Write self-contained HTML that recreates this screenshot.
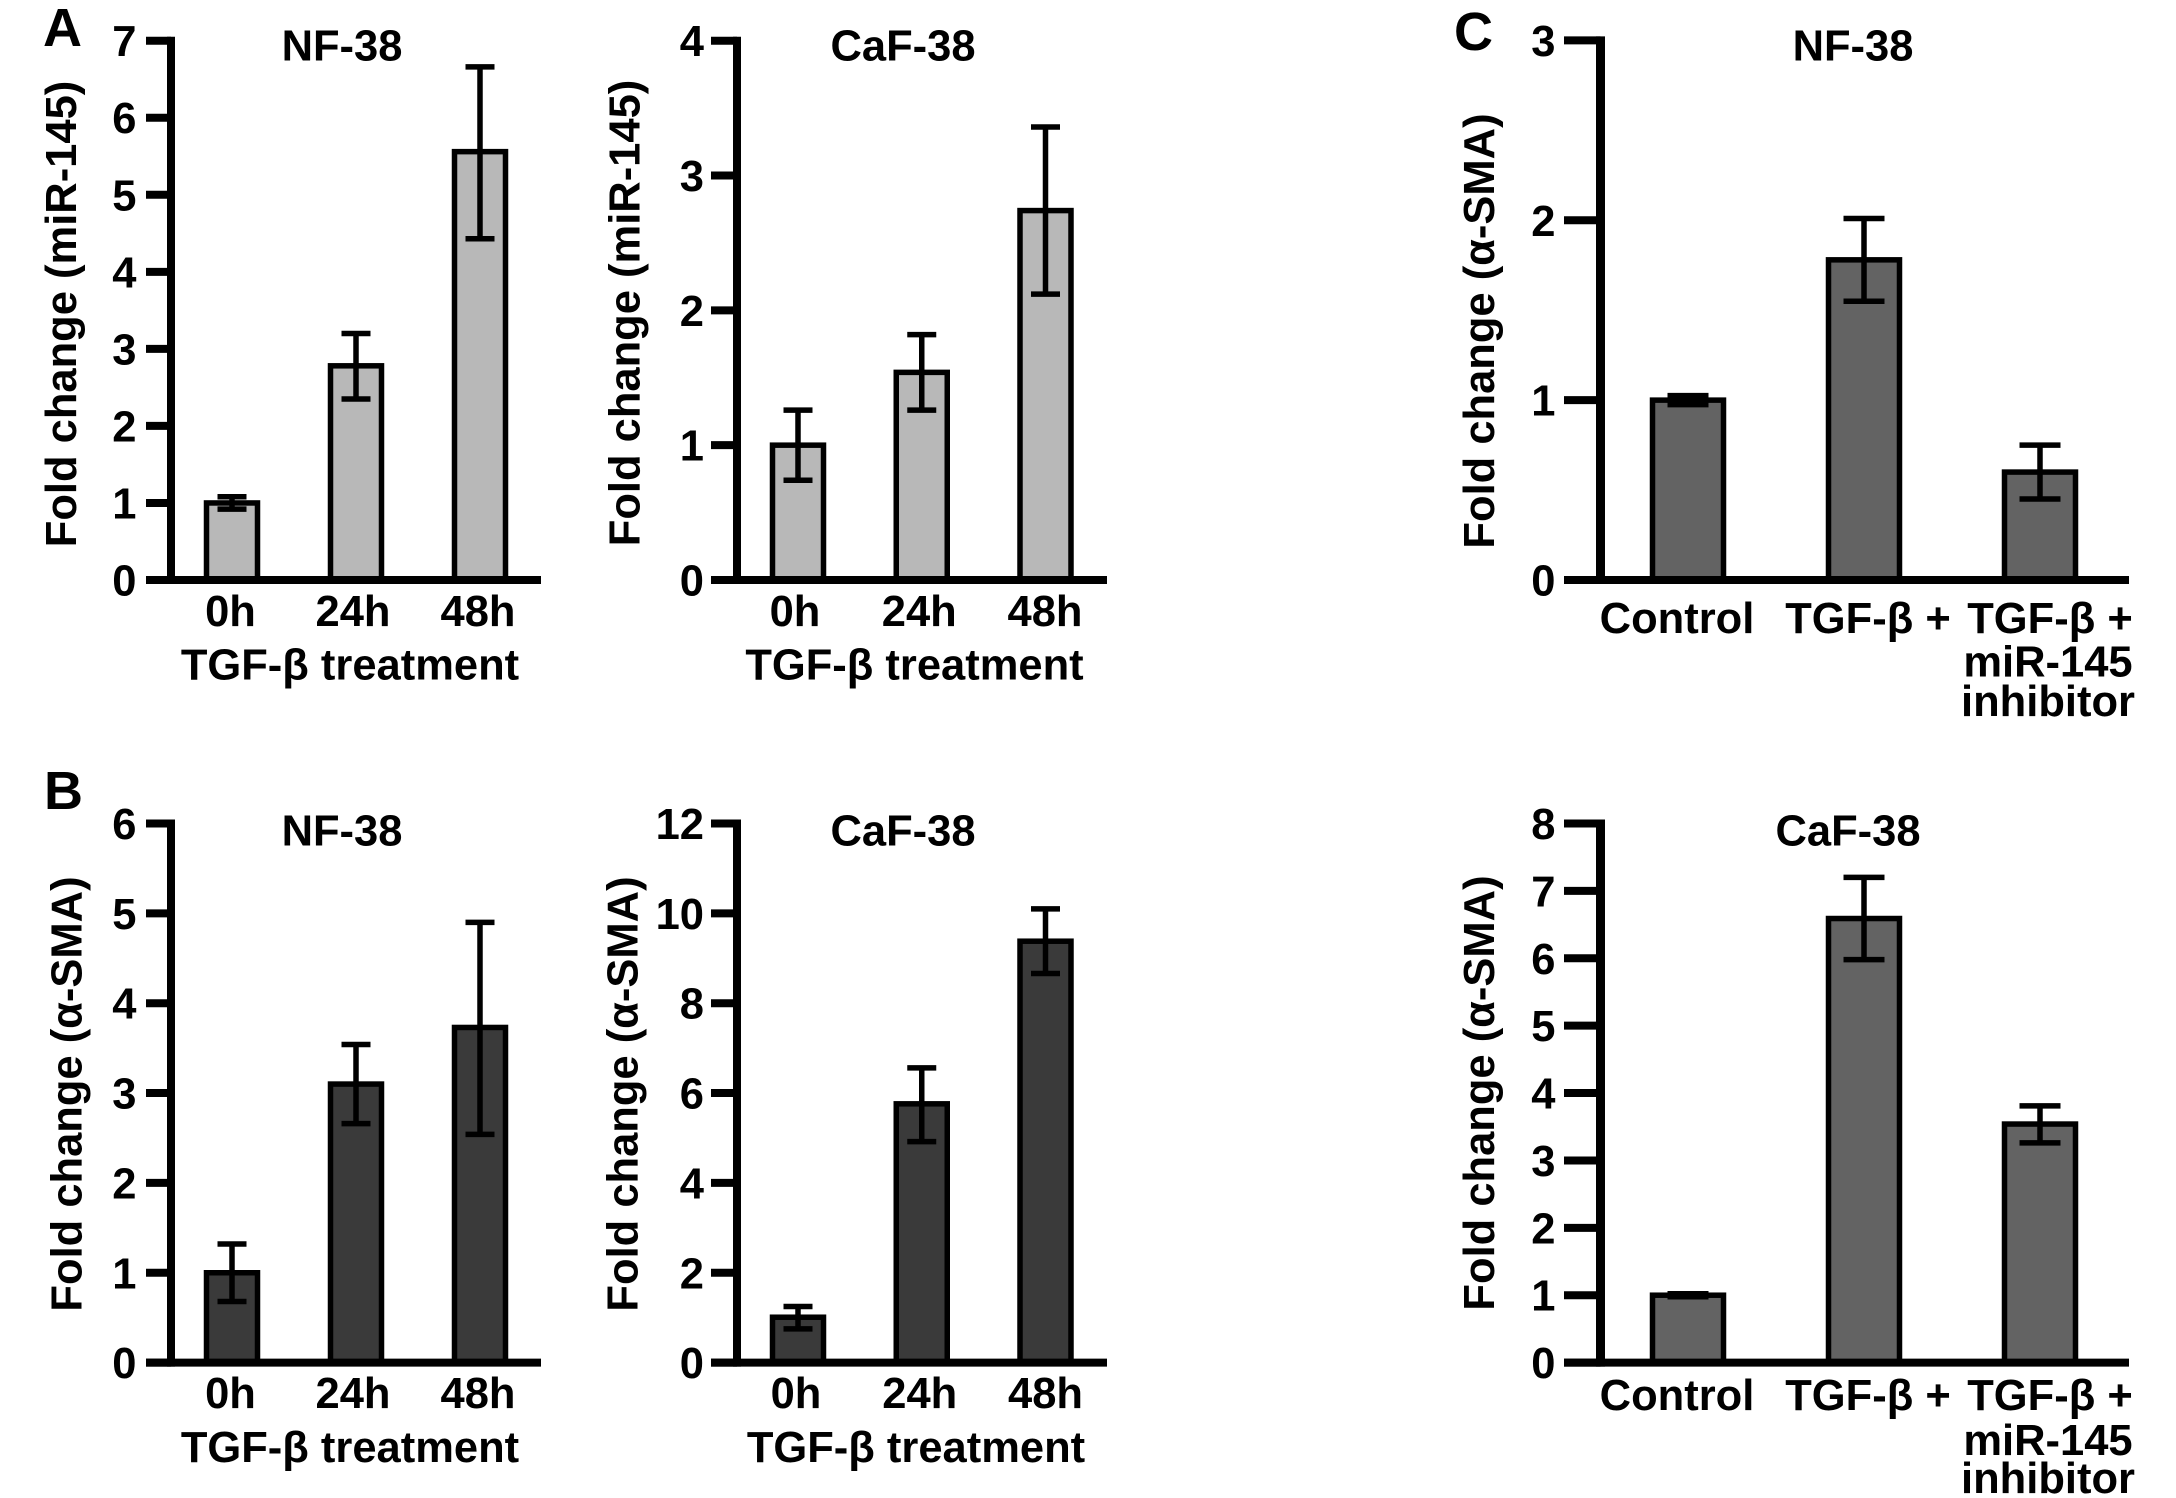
<!DOCTYPE html>
<html lang="en">
<head>
<meta charset="utf-8">
<title>Fold change of miR-145 and α-SMA</title>
<style>
  html, body { margin: 0; padding: 0; background: #fff; }
  svg { display: block; }
  text { font-family: "Liberation Sans", "DejaVu Sans", sans-serif; font-weight: 700; font-size: 43.5px; fill: #000; }
  .letter { font-size: 54px; }
  .mid { text-anchor: middle; }
</style>
</head>
<body>
<svg id="figure" width="2176" height="1498" viewBox="0 0 2176 1498" xmlns="http://www.w3.org/2000/svg">
  <rect width="2176" height="1498" fill="#fff"/>

  <text class="letter" x="43" y="46">A</text>
  <text class="letter" x="44" y="809">B</text>
  <text class="letter" x="1454" y="50">C</text>

  <g id="a1">
    <text class="mid" x="342" y="60.5">NF-38</text>
    <text class="mid" transform="translate(76 314) rotate(-90)">Fold change (miR-145)</text>
    <text class="mid" x="350" y="679.5">TGF-β treatment</text>
  </g>
  <g id="a2">
    <text class="mid" x="903" y="60.5">CaF-38</text>
    <text class="mid" transform="translate(639.5 313) rotate(-90)">Fold change (miR-145)</text>
    <text class="mid" x="914.5" y="679.5">TGF-β treatment</text>
  </g>
  <g id="b1">
    <text class="mid" x="342" y="845.5">NF-38</text>
    <text class="mid" transform="translate(81.5 1094) rotate(-90)">Fold change (α-SMA)</text>
    <text class="mid" x="350" y="1462">TGF-β treatment</text>
  </g>
  <g id="b2">
    <text class="mid" x="903" y="845.5">CaF-38</text>
    <text class="mid" transform="translate(637.5 1094) rotate(-90)">Fold change (α-SMA)</text>
    <text class="mid" x="916" y="1462">TGF-β treatment</text>
  </g>
  <g id="c1">
    <text class="mid" x="1853" y="60.5">NF-38</text>
    <text class="mid" transform="translate(1494 331) rotate(-90)">Fold change (α-SMA)</text>
  </g>
  <g id="c2">
    <text class="mid" x="1848" y="845.5">CaF-38</text>
    <text class="mid" transform="translate(1494 1093) rotate(-90)">Fold change (α-SMA)</text>
  </g>
</svg>

<script>
// Categories
const timeCategories = ['0h', '24h', '48h'];
const treatmentCategories = ['Control', 'TGF-β +', 'TGF-β +|miR-145|inhibitor'];

// Panel A, NF-38
const a1Ticks = [0, 1, 2, 3, 4, 5, 6, 7];
const a1Values = [1.0, 2.78, 5.56];
const a1ErrHigh = [1.08, 3.2, 6.66];
const a1ErrLow = [0.92, 2.35, 4.43];

// Panel A, CaF-38
const a2Ticks = [0, 1, 2, 3, 4];
const a2Values = [1.0, 1.54, 2.74];
const a2ErrHigh = [1.26, 1.82, 3.36];
const a2ErrLow = [0.74, 1.26, 2.12];

// Panel B, NF-38
const b1Ticks = [0, 1, 2, 3, 4, 5, 6];
const b1Values = [1.0, 3.1, 3.73];
const b1ErrHigh = [1.32, 3.54, 4.9];
const b1ErrLow = [0.68, 2.66, 2.54];

// Panel B, CaF-38
const b2Ticks = [0, 2, 4, 6, 8, 10, 12];
const b2Values = [1.01, 5.76, 9.38];
const b2ErrHigh = [1.25, 6.56, 10.1];
const b2ErrLow = [0.75, 4.92, 8.66];

// Panel C, NF-38
const c1Ticks = [0, 1, 2, 3];
const c1Values = [1.0, 1.78, 0.6];
const c1ErrHigh = [1.025, 2.01, 0.75];
const c1ErrLow = [0.975, 1.55, 0.45];

// Panel C, CaF-38
const c2Ticks = [0, 1, 2, 3, 4, 5, 6, 7, 8];
const c2Values = [1.0, 6.59, 3.54];
const c2ErrHigh = [1.022, 7.2, 3.81];
const c2ErrLow = [0.978, 5.98, 3.26];

const LIGHT = '#b8b8b8', DARK = '#3a3a3a', MID = '#636363';
const SVG_NS = 'http://www.w3.org/2000/svg';

function make(parent, tag, attrs, text) {
  const el = document.createElementNS(SVG_NS, tag);
  for (const k in attrs) el.setAttribute(k, attrs[k]);
  if (text !== undefined) el.textContent = text;
  parent.appendChild(el);
  return el;
}

function drawPanel(p) {
  const g = document.getElementById(p.id);
  const maxV = p.ticks[p.ticks.length - 1];
  const yScale = v => p.base - (v / maxV) * (p.base - p.top);
  const xScale = i => p.x0 + p.step * i;

  p.values.forEach((v, i) => {
    const cx = xScale(i);
    const bar = make(g, 'rect', {
      x: cx - p.barW / 2, y: yScale(v), width: p.barW, height: p.base - yScale(v),
      fill: p.fill, stroke: '#000', 'stroke-width': 5.5
    });
    
    
  });

  p.values.forEach((v, i) => {
    const cx = xScale(i), yHi = yScale(p.high[i]), yLo = yScale(p.low[i]);
    const stem = make(g, 'line', { x1: cx, x2: cx, y1: yHi, y2: yLo, stroke: '#000', 'stroke-width': 5.5 });
    
    
    const capTop = make(g, 'line', { x1: cx - p.capW / 2, x2: cx + p.capW / 2, y1: yHi, y2: yHi, stroke: '#000', 'stroke-width': 5.5 });
    
    
    const capLow = make(g, 'line', { x1: cx - p.capW / 2, x2: cx + p.capW / 2, y1: yLo, y2: yLo, stroke: '#000', 'stroke-width': 5.5 });
    
    
  });

  const yAxis = make(g, 'line', { x1: p.axisX, x2: p.axisX, y1: p.top - 4, y2: p.base + 4, stroke: '#000', 'stroke-width': p.axisW });
  
  
  const xAxis = make(g, 'line', { x1: p.tickLeft, x2: p.right, y1: p.base, y2: p.base, stroke: '#000', 'stroke-width': 8 });
  
  

  p.ticks.forEach(t => {
    const y = yScale(t);
    const tick = make(g, 'line', { x1: p.tickLeft, x2: p.axisX, y1: y, y2: y, stroke: '#000', 'stroke-width': 8 });
    
    
    const lab = make(g, 'text', { x: p.labelRight, y: y + 15.5, 'text-anchor': 'end' }, String(t));
    
    
  });

  p.categories.forEach((c, i) => {
    c.split('|').forEach((line, k) => {
      const lab = make(g, 'text', {
        x: xScale(i) + p.catDx[i] + (k > 0 ? p.lineDx : 0),
        y: p.catY[k], 'text-anchor': 'middle'
      }, line);
      
      
    });
  });
}

const columnA = { x0: 232, step: 124, barW: 51, capW: 29, axisX: 171, axisW: 8, tickLeft: 146, right: 541, labelRight: 136.5, catDx: [-1.5, -3, -2], lineDx: 0 };
const columnB = { x0: 798, step: 123.75, barW: 51, capW: 29, axisX: 737, axisW: 8, tickLeft: 711, right: 1107, labelRight: 704, lineDx: 0 };
const columnC = { x0: 1688, step: 176, barW: 71, capW: 41, axisX: 1600.5, axisW: 9, tickLeft: 1564, right: 2129, labelRight: 1555.5, catDx: [-11, 4, 10], lineDx: -2 };

drawPanel(Object.assign({}, columnA, { id: 'a1', top: 40.7, base: 580, fill: LIGHT, ticks: a1Ticks, values: a1Values, high: a1ErrHigh, low: a1ErrLow, categories: timeCategories, catY: [626] }));
drawPanel(Object.assign({}, columnB, { id: 'a2', top: 40.7, base: 580, fill: LIGHT, ticks: a2Ticks, values: a2Values, high: a2ErrHigh, low: a2ErrLow, categories: timeCategories, catDx: [-3, -2.5, -0.5], catY: [626] }));
drawPanel(Object.assign({}, columnA, { id: 'b1', top: 823.5, base: 1362.6, fill: DARK, ticks: b1Ticks, values: b1Values, high: b1ErrHigh, low: b1ErrLow, categories: timeCategories, catY: [1408] }));
drawPanel(Object.assign({}, columnB, { id: 'b2', top: 823.5, base: 1362.6, fill: DARK, ticks: b2Ticks, values: b2Values, high: b2ErrHigh, low: b2ErrLow, categories: timeCategories, catDx: [-2, -2, 0], catY: [1408] }));
drawPanel(Object.assign({}, columnC, { id: 'c1', top: 40.4, base: 580, fill: MID, ticks: c1Ticks, values: c1Values, high: c1ErrHigh, low: c1ErrLow, categories: treatmentCategories, catY: [633, 676.5, 716] }));
drawPanel(Object.assign({}, columnC, { id: 'c2', top: 823.5, base: 1362.6, fill: MID, ticks: c2Ticks, values: c2Values, high: c2ErrHigh, low: c2ErrLow, categories: treatmentCategories, catY: [1410, 1455, 1493] }));
</script>
</body>
</html>
